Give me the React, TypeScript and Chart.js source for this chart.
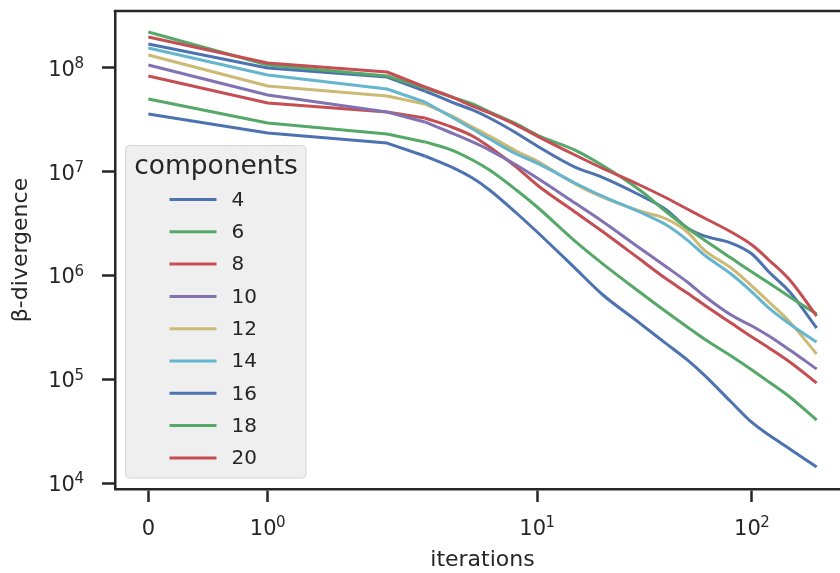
import React, { useEffect, useRef } from 'react';
import { Chart, LinearScale, registerables } from 'chart.js';

// ---------------- data ----------------
const ITERATIONS = [0, 1, 2, 3, 4, 5, 6, 8, 10, 15, 20, 30, 40, 50, 60, 80, 100, 120, 150, 200];
const COMPONENTS = ['4', '6', '8', '10', '12', '14', '16', '18', '20'];

const S4 = [3.6e7, 2.37e7, 1.89e7, 1.42e7, 1.11e7, 8.71e6, 6.68e6, 4.01e6, 2.63e6, 1.18e6, 6.65e5, 3.49e5, 2.2e5, 1.54e5, 1.1e5, 6.06e4, 3.85e4, 2.91e4, 2.14e4, 1.43e4];
const S6 = [5.03e7, 2.95e7, 2.31e7, 1.94e7, 1.62e7, 1.3e7, 1.04e7, 6.68e6, 4.58e6, 2.15e6, 1.32e6, 6.95e5, 4.46e5, 3.2e5, 2.45e5, 1.68e5, 1.232e5, 9.44e4, 6.77e4, 4.06e4];
const S8 = [8.37e7, 4.6e7, 3.77e7, 3.3e7, 2.7e7, 2.21e7, 1.73e7, 1.11e7, 7.46e6, 4.1e6, 2.69e6, 1.445e6, 9.27e5, 6.8e5, 5.21e5, 3.49e5, 2.56e5, 2.01e5, 1.47e5, 9.23e4];
const S10 = [1.069e8, 5.49e7, 3.77e7, 3.02e7, 2.365e7, 1.94e7, 1.62e7, 1.163e7, 8.71e6, 5.0e6, 3.36e6, 1.845e6, 1.21e6, 8.68e5, 6.36e5, 4.17e5, 3.27e5, 2.62e5, 1.92e5, 1.26e5];
const S12 = [1.334e8, 6.71e7, 5.37e7, 4.5e7, 3.45e7, 2.7e7, 2.21e7, 1.586e7, 1.271e7, 7.63e6, 5.72e6, 4.19e6, 3.51e6, 2.63e6, 1.764e6, 1.184e6, 7.94e5, 5.57e5, 3.57e5, 1.757e5];
const S14 = [1.558e8, 8.56e7, 6.28e7, 4.7e7, 3.37e7, 2.58e7, 2.07e7, 1.484e7, 1.215e7, 7.8e6, 5.85e6, 4.1e6, 3.07e6, 2.2e6, 1.58e6, 1.036e6, 6.95e5, 4.87e5, 3.42e5, 2.29e5];
const S16 = [1.703e8, 1.0e8, 8.19e7, 6.0e7, 4.7e7, 3.94e7, 3.3e7, 2.365e7, 1.773e7, 1.11e7, 8.91e6, 5.98e6, 4.29e6, 2.87e6, 2.41e6, 2.06e6, 1.615e6, 1.083e6, 6.95e5, 3.13e5];
const S18 = [2.22e8, 1.069e8, 8.37e7, 6.42e7, 5.26e7, 4.5e7, 3.77e7, 2.89e7, 2.26e7, 1.62e7, 1.163e7, 6.68e6, 4.1e6, 2.87e6, 2.2e6, 1.477e6, 1.083e6, 8.49e5, 6.22e5, 4.27e5];
const S20 = [1.99e8, 1.117e8, 9.15e7, 6.56e7, 5.26e7, 4.3e7, 3.69e7, 2.82e7, 2.21e7, 1.451e7, 1.088e7, 7.46e6, 5.59e6, 4.38e6, 3.59e6, 2.63e6, 1.97e6, 1.413e6, 9.07e5, 4.08e5];
const SERIES = [S4, S6, S8, S10, S12, S14, S16, S18, S20];

const COLORS = ['#4C72B0', '#55A868', '#C44E52', '#8172B2', '#CCB974', '#64B5CD', '#4C72B0', '#55A868', '#C44E52'];

// the first iterations are sparse (straight segments); after that the curve is smooth
const SMOOTH_FROM = 3;

// tick values with their label parts: base and exponent ('' for none)
const X_TICKS = [0, 1, 10, 100];
const X_TICK_BASES = ['0', '10', '10', '10'];
const X_TICK_EXPS = ['', '0', '1', '2'];
const Y_TICKS = [1e4, 1e5, 1e6, 1e7, 1e8];
const Y_TICK_BASES = ['10', '10', '10', '10', '10'];
const Y_TICK_EXPS = ['4', '5', '6', '7', '8'];
const X_MIN = -0.2795;
const X_MAX = 286;
const Y_MIN = 8.8e3;
const Y_MAX = 3.54e8;

const X_TITLE = 'iterations';
const Y_TITLE = '\u03B2-divergence';
const LEGEND_TITLE = 'components';

// ---------------- symlog scale (linthresh 2, linscale 1, base 10) ----------------
const LINTHRESH = 2;
const LINSCALE_ADJ = 1 / (1 - 1 / 10);
function symlog(v: number) {
  const a = Math.abs(v);
  if (a <= LINTHRESH) return (v / LINTHRESH) * LINSCALE_ADJ;
  return Math.sign(v) * (LINSCALE_ADJ + Math.log10(a / LINTHRESH));
}
function symlogInv(f: number) {
  const a = Math.abs(f);
  if (a <= LINSCALE_ADJ) return (f * LINTHRESH) / LINSCALE_ADJ;
  return Math.sign(f) * LINTHRESH * Math.pow(10, a - LINSCALE_ADJ);
}

class SymlogScale extends LinearScale {
  static id = 'symlog';
  static defaults = {};
  getPixelForValue(value: number) {
    const s = symlog(this.min);
    const e = symlog(this.max);
    return this.getPixelForDecimal((symlog(value) - s) / (e - s));
  }
  getValueForPixel(pixel: number) {
    const s = symlog(this.min);
    const e = symlog(this.max);
    return symlogInv(s + this.getDecimalForPixel(pixel) * (e - s));
  }
}

Chart.register(...registerables, SymlogScale as any);

const INK = '#262626';
const FONT = 'DejaVu Sans';
const TICK_SIZE = 21;
const EXP_SIZE = 15;

function drawPowerLabel(ctx: CanvasRenderingContext2D, base: string, exp: string, x: number, baseline: number, align: 'center' | 'right') {
  ctx.font = `${TICK_SIZE}px "${FONT}"`;
  const bw = ctx.measureText(base).width;
  ctx.font = `${EXP_SIZE}px "${FONT}"`;
  const ew = exp ? ctx.measureText(exp).width : 0;
  const gap = exp ? -0.5 : 0;
  const total = bw + gap + ew;
  const left = align === 'center' ? x - total / 2 : x - total;
  ctx.textAlign = 'left';
  ctx.textBaseline = 'alphabetic';
  ctx.font = `${TICK_SIZE}px "${FONT}"`;
  ctx.fillText(base, left, baseline);
  if (exp) {
    ctx.font = `${EXP_SIZE}px "${FONT}"`;
    ctx.fillText(exp, left + bw + gap, baseline - 7.7);
  }
}

const frameAndLegend = {
  id: 'frameAndLegend',
  afterDraw(chart: any) {
    const { ctx, chartArea } = chart;
    ctx.save();
    // top spine
    ctx.beginPath();
    ctx.strokeStyle = INK;
    ctx.lineWidth = 2.5;
    ctx.moveTo(chartArea.left - 1.25, chartArea.top);
    ctx.lineTo(chartArea.right + 1.25, chartArea.top);
    ctx.stroke();

    // tick labels with superscript exponents
    ctx.fillStyle = INK;
    const xs = chart.scales.x;
    X_TICKS.forEach((v, i) => {
      drawPowerLabel(ctx, X_TICK_BASES[i], X_TICK_EXPS[i], xs.getPixelForValue(v), 535, 'center');
    });
    const ys = chart.scales.y;
    Y_TICKS.forEach((v, i) => {
      drawPowerLabel(ctx, Y_TICK_BASES[i], Y_TICK_EXPS[i], 84, ys.getPixelForValue(v) + 7.8, 'right');
    });

    // legend box
    ctx.beginPath();
    ctx.roundRect(125.5, 145.5, 180.5, 332.5, 4);
    ctx.fillStyle = '#efefef';
    ctx.fill();
    ctx.lineWidth = 1;
    ctx.strokeStyle = '#d4d4d4';
    ctx.stroke();

    ctx.fillStyle = INK;
    ctx.font = `26.5px "${FONT}"`;
    ctx.textAlign = 'center';
    ctx.textBaseline = 'alphabetic';
    ctx.fillText(LEGEND_TITLE, 216, 174);

    COMPONENTS.forEach((label, i) => {
      const y = 199.5 + 32.3 * i;
      ctx.beginPath();
      ctx.moveTo(169.5, y);
      ctx.lineTo(216.5, y);
      ctx.strokeStyle = COLORS[i];
      ctx.lineWidth = 3;
      ctx.lineCap = 'butt';
      ctx.stroke();
      ctx.fillStyle = INK;
      ctx.font = `20px "${FONT}"`;
      ctx.textAlign = 'left';
      ctx.textBaseline = 'middle';
      ctx.fillText(label, 231.5, y + 1);
    });
    ctx.restore();
  },
};

export default function App() {
  const ref = useRef<HTMLCanvasElement>(null);
  useEffect(() => {
    Chart.defaults.font.family = FONT;
    Chart.defaults.color = INK;
    const datasets: any[] = [];
    SERIES.forEach((s, i) => {
      const pts = ITERATIONS.map((x, j) => ({ x, y: s[j] }));
      const common = {
        label: COMPONENTS[i],
        borderColor: COLORS[i],
        backgroundColor: COLORS[i],
        borderWidth: 3,
        pointRadius: 0,
        fill: false,
        borderJoinStyle: 'round' as const,
        order: -i,
      };
      // sparse start: straight segments
      datasets.push({ ...common, data: pts.filter((p) => p.x <= SMOOTH_FROM), tension: 0 });
      // dense part: smooth curve
      datasets.push({ ...common, data: pts.filter((p) => p.x >= SMOOTH_FROM), cubicInterpolationMode: 'monotone' });
    });
    const grid = {
      display: true,
      drawOnChartArea: false,
      drawTicks: true,
      tickLength: 13,
      tickWidth: 2.5,
      tickColor: INK,
    };
    const border = { display: true, color: INK, width: 2.5 };
    const chart = new Chart(ref.current!, {
      type: 'line',
      data: { datasets },
      plugins: [frameAndLegend],
      options: {
        responsive: false,
        animation: false,
        devicePixelRatio: 1,
        layout: { padding: { top: 11, right: 20, bottom: 0, left: 0 } },
        plugins: { legend: { display: false }, tooltip: { enabled: false } },
        scales: {
          x: {
            type: 'symlog' as any,
            min: X_MIN,
            max: X_MAX,
            bounds: 'data',
            afterBuildTicks: (s: any) => {
              s.ticks = X_TICKS.map((v) => ({ value: v }));
            },
            afterFit: (s: any) => {
              s.height = 84;
              s.paddingLeft = 0;
              s.paddingRight = 0;
            },
            ticks: { display: false, autoSkip: false, maxRotation: 0 },
            grid,
            border,
            title: {
              display: true,
              text: X_TITLE,
              color: INK,
              font: { family: FONT, size: 22 },
              padding: { top: 0, bottom: 0 },
            },
          } as any,
          y: {
            type: 'logarithmic',
            min: Y_MIN,
            max: Y_MAX,
            bounds: 'data',
            afterBuildTicks: (s: any) => {
              s.ticks = Y_TICKS.map((v) => ({ value: v }));
            },
            afterFit: (s: any) => {
              s.width = 115;
              s.paddingTop = 0;
              s.paddingBottom = 0;
            },
            ticks: { display: false, autoSkip: false },
            grid,
            border,
            title: {
              display: true,
              text: Y_TITLE,
              color: INK,
              font: { family: FONT, size: 22 },
              padding: { top: 8, bottom: 0 },
            },
          } as any,
        },
      },
    });
    return () => chart.destroy();
  }, []);
  return (
    <div
      style={{
        position: 'fixed',
        left: 0,
        top: 0,
        width: 840,
        height: 573,
        overflow: 'hidden',
        background: '#ffffff',
      }}
    >
      <canvas ref={ref} width={870} height={573} style={{ display: 'block', width: 870, height: 573 }} />
    </div>
  );
}
